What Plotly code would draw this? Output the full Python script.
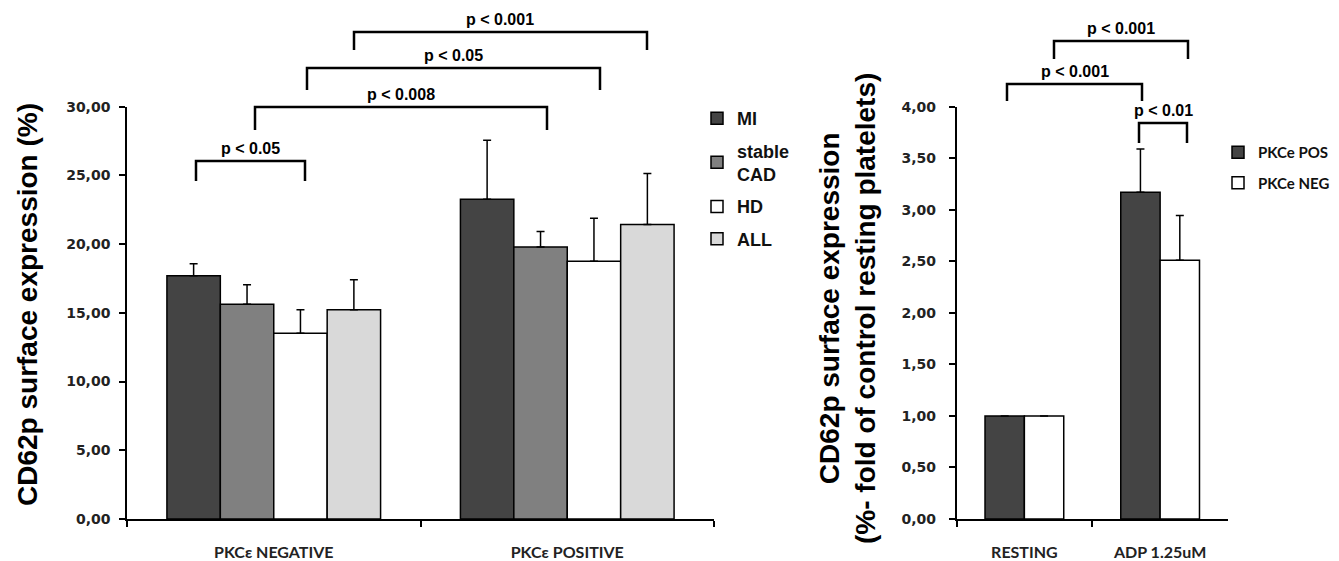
import plotly.graph_objects as go

# The page body has an 8px default margin, so the figure is drawn at (8, 8);
# positions below are screen pixels converted to figure fractions.
W, H = 1339, 561
OFF = 8
FW, FH = W - OFF, H - OFF

# ---------------- data ----------------
left_categories = ["PKCε NEGATIVE", "PKCε POSITIVE"]
left_series = ["MI", "stable<br>CAD", "HD", "ALL"]
mi_vals = [17.70, 23.27]
mi_err = [0.87, 4.29]
cad_vals = [15.63, 19.80]
cad_err = [1.41, 1.12]
hd_vals = [13.52, 18.76]
hd_err = [1.70, 3.13]
all_vals = [15.22, 21.43]
all_err = [2.19, 3.71]
left_colors = ["#444444", "#808080", "#ffffff", "#d9d9d9"]

left_tick_vals = [0, 5, 10, 15, 20, 25, 30]
left_tick_text = ["0,00", "5,00", "10,00", "15,00", "20,00", "25,00", "30,00"]

right_categories = ["RESTING", "ADP 1.25uM"]
right_series = ["PKCe POS", "PKCe NEG"]
pos_vals = [1.00, 3.17]
pos_err = [None, 0.42]
neg_vals = [1.00, 2.51]
neg_err = [None, 0.435]
right_colors = ["#444444", "#ffffff"]

right_tick_vals = [0, 0.5, 1, 1.5, 2, 2.5, 3, 3.5, 4]
right_tick_text = ["0,00", "0,50", "1,00", "1,50", "2,00", "2,50", "3,00", "3,50", "4,00"]

# p-value brackets: (label, x_left_px, x_right_px, y_bar_px, y_foot_px)
left_brackets = [
    ("p < 0.05", 196, 305, 161, 181),
    ("p < 0.008", 255, 547, 107, 130),
    ("p < 0.05", 307, 600, 68, 90),
    ("p < 0.001", 354, 647, 32, 50),
]
right_brackets = [
    ("p < 0.001", 1054, 1188, 41, 59),
    ("p < 0.001", 1007, 1142, 84, 101),
    ("p < 0.01", 1139, 1187, 123, 143),
]


def px_x(p):
    return (p - OFF) / FW


def px_y(p):
    return 1 - (p - OFF) / FH


# ---------------- figure ----------------
fig = go.Figure()

left_vals = [mi_vals, cad_vals, hd_vals, all_vals]
left_errs = [mi_err, cad_err, hd_err, all_err]
lw = 0.182
left_offsets = [-2 * lw, -lw, 0, lw]
for i, (name, vals, errs) in enumerate(zip(left_series, left_vals, left_errs)):
    fig.add_trace(go.Bar(
        x=left_categories, y=vals, name=name,
        width=lw, offset=left_offsets[i],
        marker=dict(color=left_colors[i], line=dict(color="black", width=1.5)),
        error_y=dict(type="data", array=errs, arrayminus=[0, 0], symmetric=False,
                     color="black", thickness=1.5, width=4),
        xaxis="x", yaxis="y", legend="legend", legendgroup="L%d" % i,
    ))

right_vals = [pos_vals, neg_vals]
right_errs = [pos_err, neg_err]
rw = 0.29
right_offsets = [-rw, 0]
for i, (name, vals, errs) in enumerate(zip(right_series, right_vals, right_errs)):
    fig.add_trace(go.Bar(
        x=right_categories, y=vals, name=name,
        width=rw, offset=right_offsets[i],
        marker=dict(color=right_colors[i], line=dict(color="black", width=1.5)),
        error_y=dict(type="data", array=errs, arrayminus=[0, 0], symmetric=False,
                     color="black", thickness=1.5, width=4),
        xaxis="x2", yaxis="y2", legend="legend2", legendgroup="R%d" % i,
    ))

shapes = []
annotations = []
for label, x0, x1, yb, yf in left_brackets + right_brackets:
    shapes.append(dict(
        type="path", xref="paper", yref="paper",
        path="M %f,%f L %f,%f L %f,%f L %f,%f" % (
            px_x(x0), px_y(yf), px_x(x0), px_y(yb), px_x(x1), px_y(yb), px_x(x1), px_y(yf)),
        line=dict(color="black", width=2.5),
    ))
    annotations.append(dict(
        text=label, xref="paper", yref="paper",
        x=px_x((x0 + x1) / 2), y=px_y(yb - 12.5), xanchor="center", yanchor="middle",
        showarrow=False, borderpad=0,
        font=dict(family="Liberation Sans", size=16, color="black", weight="bold"),
    ))

annotations.append(dict(
    text="CD62p surface expression (%)", xref="paper", yref="paper",
    x=px_x(27), y=px_y(305), textangle=-90, showarrow=False,
    xanchor="center", yanchor="middle",
    font=dict(family="Liberation Sans", size=28, color="black", weight="bold"),
))
annotations.append(dict(
    text="CD62p surface expression<br>(%- fold of control resting platelets)",
    xref="paper", yref="paper",
    x=px_x(847), y=px_y(309), textangle=-90, showarrow=False,
    xanchor="center", yanchor="middle",
    font=dict(family="Liberation Sans", size=28, color="black", weight="bold"),
))

tickfont_y = dict(family="DejaVu Sans", size=14, color="#222222", weight="bold")
tickfont_x = dict(family="Lato", size=16, color="#222222", weight="bold")

ydom = [px_y(519), px_y(106.7)]

fig.update_layout(
    width=FW, height=FH,
    margin=dict(l=0, r=0, t=0, b=0, pad=0, autoexpand=False),
    paper_bgcolor="white", plot_bgcolor="white",
    barmode="overlay",
    showlegend=True,
    shapes=shapes,
    annotations=annotations,
    xaxis=dict(domain=[px_x(127), px_x(714)], range=[-0.5, 1.5], type="category",
               showline=True, linecolor="black", linewidth=1.5,
               ticks="outside", tickson="boundaries", ticklen=6, tickcolor="black",
               tickwidth=1.5, showgrid=False, zeroline=False, automargin=False,
               tickfont=tickfont_x, ticklabelstandoff=18, anchor="y"),
    yaxis=dict(domain=ydom, range=[0, 30], tickvals=left_tick_vals, ticktext=left_tick_text,
               showline=True, linecolor="black", linewidth=1.5,
               ticks="outside", ticklen=6, tickcolor="black", tickwidth=1.5,
               showgrid=False, zeroline=False, tickfont=tickfont_y, automargin=False,
               ticklabelstandoff=6, anchor="x"),
    xaxis2=dict(domain=[px_x(956.5), px_x(1228)], range=[-0.5, 1.5], type="category",
                showline=True, linecolor="black", linewidth=1.5,
                ticks="outside", tickson="boundaries", ticklen=6, tickcolor="black",
                tickwidth=1.5, showgrid=False, zeroline=False, automargin=False,
                tickfont=tickfont_x, ticklabelstandoff=18, anchor="y2"),
    yaxis2=dict(domain=ydom, range=[0, 4], tickvals=right_tick_vals, ticktext=right_tick_text,
                showline=True, linecolor="black", linewidth=1.5,
                ticks="outside", ticklen=6, tickcolor="black", tickwidth=1.5,
                showgrid=False, zeroline=False, tickfont=tickfont_y, automargin=False,
                ticklabelstandoff=10, anchor="x2"),
    legend=dict(x=px_x(697), y=px_y(100), xanchor="left", yanchor="top",
                font=dict(family="Liberation Sans", size=18, color="#111111", weight="bold"),
                tracegroupgap=6, bgcolor="rgba(0,0,0,0)", borderwidth=0),
    legend2=dict(x=px_x(1218), y=px_y(136), xanchor="left", yanchor="top",
                 font=dict(family="Lato", size=15, color="#111111", weight="bold"),
                 tracegroupgap=8, bgcolor="rgba(0,0,0,0)", borderwidth=0),
)

fig.write_html("out.html")
